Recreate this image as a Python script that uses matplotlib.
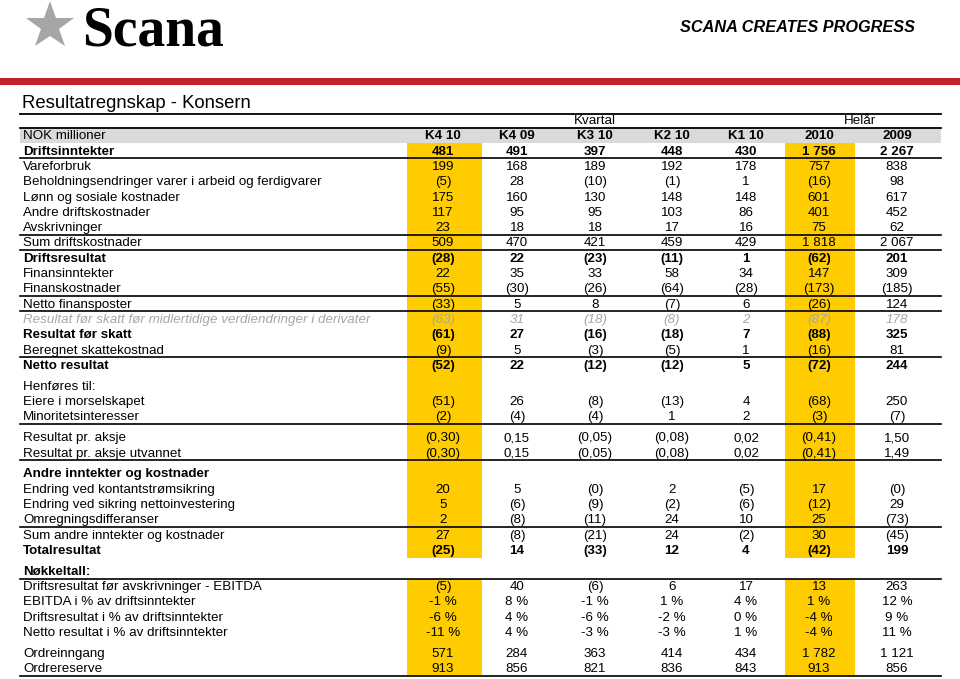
import matplotlib
matplotlib.use("Agg")
import matplotlib.pyplot as plt
from matplotlib.patches import Rectangle

plt.rcParams['font.family'] = ['Liberation Sans', 'DejaVu Sans']

# column headers
col_names = ["K4 10", "K4 09", "K3 10", "K2 10", "K1 10", "2010", "2009"]

# row labels and style (b = bold, i = grey italic, n = normal)
labels = [
    "Driftsinntekter", "Vareforbruk",
    "Beholdningsendringer varer i arbeid og ferdigvarer",
    "Lønn og sosiale kostnader", "Andre driftskostnader", "Avskrivninger",
    "Sum driftskostnader", "Driftsresultat", "Finansinntekter", "Finanskostnader",
    "Netto finansposter",
    "Resultat før skatt før midlertidige verdiendringer i derivater",
    "Resultat før skatt", "Beregnet skattekostnad", "Netto resultat",
    "Henføres til:", "Eiere i morselskapet", "Minoritetsinteresser",
    "Resultat pr. aksje", "Resultat pr. aksje utvannet",
    "Andre inntekter og kostnader", "Endring ved kontantstrømsikring",
    "Endring ved sikring nettoinvestering", "Omregningsdifferanser",
    "Sum andre inntekter og kostnader", "Totalresultat",
    "Nøkkeltall:", "Driftsresultat før avskrivninger - EBITDA",
    "EBITDA i % av driftsinntekter", "Driftsresultat i % av driftsinntekter",
    "Netto resultat i % av driftsinntekter", "Ordreinngang", "Ordrereserve",
]
styles = "bnnnnnnbnnnibnb" + "nnn" + "nn" + "bnnnnb" + "bnnnn" + "nn"

k4_10 = ["481", "199", "(5)", "175", "117", "23", "509", "(28)", "22", "(55)", "(33)",
         "(63)", "(61)", "(9)", "(52)", "", "(51)", "(2)", "(0,30)", "(0,30)",
         "", "20", "5", "2", "27", "(25)", "", "(5)", "-1 %", "-6 %", "-11 %", "571", "913"]
k4_09 = ["491", "168", "28", "160", "95", "18", "470", "22", "35", "(30)", "5",
         "31", "27", "5", "22", "", "26", "(4)", "0,15", "0,15",
         "", "5", "(6)", "(8)", "(8)", "14", "", "40", "8 %", "4 %", "4 %", "284", "856"]
k3_10 = ["397", "189", "(10)", "130", "95", "18", "421", "(23)", "33", "(26)", "8",
         "(18)", "(16)", "(3)", "(12)", "", "(8)", "(4)", "(0,05)", "(0,05)",
         "", "(0)", "(9)", "(11)", "(21)", "(33)", "", "(6)", "-1 %", "-6 %", "-3 %", "363", "821"]
k2_10 = ["448", "192", "(1)", "148", "103", "17", "459", "(11)", "58", "(64)", "(7)",
         "(8)", "(18)", "(5)", "(12)", "", "(13)", "1", "(0,08)", "(0,08)",
         "", "2", "(2)", "24", "24", "12", "", "6", "1 %", "-2 %", "-3 %", "414", "836"]
k1_10 = ["430", "178", "1", "148", "86", "16", "429", "1", "34", "(28)", "6",
         "2", "7", "1", "5", "", "4", "2", "0,02", "0,02",
         "", "(5)", "(6)", "10", "(2)", "4", "", "17", "4 %", "0 %", "1 %", "434", "843"]
y2010 = ["1 756", "757", "(16)", "601", "401", "75", "1 818", "(62)", "147", "(173)", "(26)",
         "(87)", "(88)", "(16)", "(72)", "", "(68)", "(3)", "(0,41)", "(0,41)",
         "", "17", "(12)", "25", "30", "(42)", "", "13", "1 %", "-4 %", "-4 %", "1 782", "913"]
y2009 = ["2 267", "838", "98", "617", "452", "62", "2 067", "201", "309", "(185)", "124",
         "178", "325", "81", "244", "", "250", "(7)", "1,50", "1,49",
         "", "(0)", "29", "(73)", "(45)", "199", "", "263", "12 %", "9 %", "11 %", "1 121", "856"]
columns = [k4_10, k4_09, k3_10, k2_10, k1_10, y2010, y2009]

# layout
gap_before = {15, 18, 20, 26, 31}
lines_above = {6, 7, 10, 11, 14, 24}
lines_below = {0, 17, 19, 26, 32}
col_x = [443, 517, 595, 672, 746, 819, 897]
yellow_cols = [(407, 482), (785, 855)]
pitch = 15.3
gap = 5.6
x_left, x_right = 20, 941
fs = 9.6
dy = 0.8  # nudge text down a little inside each row

fig = plt.figure(figsize=(9.6, 6.79), dpi=100)
ax = fig.add_axes([0, 0, 1, 1])
ax.set_xlim(0, 960)
ax.set_ylim(679, 0)
ax.axis('off')

# header / logo
ax.plot([49.5], [26], marker='*', markersize=36, color='#a6a6a6', markeredgewidth=0)
ax.text(82, 46, "Scana", family='Liberation Serif', fontweight='bold', fontsize=40,
        va='baseline', ha='left', color='black')
ax.text(680, 27, "SCANA CREATES PROGRESS", fontweight='bold', style='italic',
        fontsize=11.7, va='center', ha='left', color='black')
ax.add_patch(Rectangle((0, 78), 960, 7, color='#c0222f', lw=0))

ax.text(22, 103, "Resultatregnskap - Konsern", fontsize=13.3, va='center', ha='left')
ax.plot([x_left, x_right], [114, 114], color='black', lw=1.3)

# row positions
header_y = 135.5
ys = []
y = header_y
for i in range(len(labels)):
    y += pitch
    if i in gap_before:
        y += gap
    ys.append(y)
half = pitch / 2

# yellow highlight
spans = [(ys[0] - half, ys[25] + half), (ys[27] - half, ys[32] + half)]
for x0, x1 in yellow_cols:
    for t, b in spans:
        ax.add_patch(Rectangle((x0, t), x1 - x0, b - t, color='#ffcc00', lw=0, zorder=0))

# column header band
ax.add_patch(Rectangle((x_left, header_y - half), x_right - x_left, pitch,
                       color='#dadada', lw=0, zorder=0))
ax.plot([x_left, x_right], [header_y - half, header_y - half], color='black', lw=1.3)
ax.text(595, 121.5, "Kvartal", fontsize=fs, ha='center', va='center')
ax.text(860, 121.5, "Helår", fontsize=fs, ha='center', va='center')
ax.text(23, header_y + dy, "NOK millioner", fontsize=fs, ha='left', va='center')
for cx, name in zip(col_x, col_names):
    ax.text(cx, header_y + dy, name, fontsize=fs, fontweight='bold', ha='center', va='center')

# rows
for i, (lab, st) in enumerate(zip(labels, styles)):
    kw = dict(fontsize=fs, va='center')
    if st == 'b':
        kw['fontweight'] = 'bold'
    elif st == 'i':
        kw['style'] = 'italic'
        kw['color'] = '#a6a6a6'
    ax.text(23, ys[i] + dy, lab, ha='left', **kw)
    for cx, col in zip(col_x, columns):
        ax.text(cx, ys[i] + dy, col[i], ha='center', **kw)
    if i in lines_above:
        ax.plot([x_left, x_right], [ys[i] - half] * 2, color='black', lw=1.2)
    if i in lines_below:
        ax.plot([x_left, x_right], [ys[i] + half] * 2, color='black', lw=1.2)

fig.savefig("out.png", dpi=100)
